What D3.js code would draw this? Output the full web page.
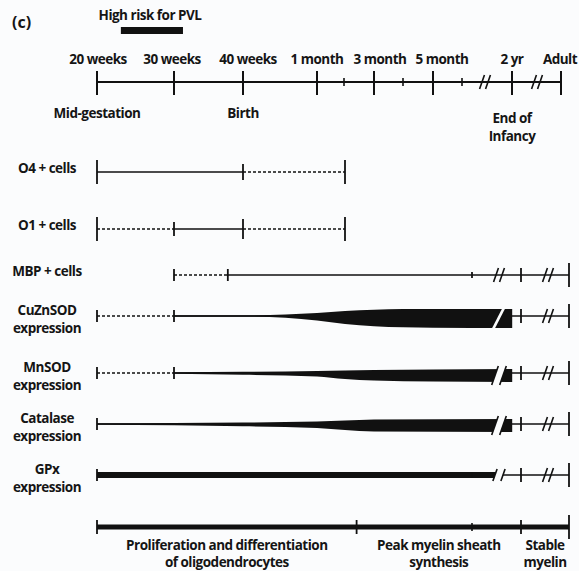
<!DOCTYPE html>
<html>
<head>
<meta charset="utf-8">
<script src="https://cdn.jsdelivr.net/npm/d3@7/dist/d3.min.js"></script>
<style>
  body { margin: 0; background: #fbfcfd; }
  text { font-family: "Open Sans", sans-serif; font-weight: 700; fill: #151515; letter-spacing: -0.5px; }
</style>
</head>
<body>
<svg id="chart" width="579" height="571"></svg>
<script>
// ---- data ----
// time points, index = position along the time scale
var timeLabels = ["20 weeks", "30 weeks", "40 weeks", "1 month", "", "3 month", "", "5 month", "", "", "2 yr", "", "Adult"];
var majorTicks = [0, 1, 2, 3, 5, 7, 10, 12];
var minorTicks = [4, 6, 8];
var breakPoints = [9, 11];
var milestones = [
    { t: 0, lines: ["Mid-gestation"] },
    { t: 2, lines: ["Birth"] },
    { t: 10, lines: ["End of", "Infancy"] }
];
var riskWindow = [0.31, 1.13];

var rowLabels = [
    ["O4 + cells"], ["O1 + cells"], ["MBP + cells"],
    ["CuZnSOD", "expression"], ["MnSOD", "expression"],
    ["Catalase", "expression"], ["GPx", "expression"]
];
// [from, to, style]
var rowSegments = [
    [[0, 2, "solid"], [2, 4, "dash"]],
    [[0, 1, "dash"], [1, 2, "solid"], [2, 4, "dash"]],
    [[1, 1.78, "dash"], [1.78, 12, "solid"]],
    [[0, 1, "dash"], [1, 12, "solid"]],
    [[0, 1, "dash"], [1, 12, "solid"]],
    [[0, 12, "solid"]],
    [[0, 12, "solid"]]
];
// [t, half height]
var rowTicks = [
    [[0, 12], [2, 8], [4, 12]],
    [[0, 12], [1, 7], [2, 10], [4, 12]],
    [[1, 6], [1.78, 6], [8, 3], [10, 7], [12, 12]],
    [[0, 6], [1, 6], [10, 7], [12, 12]],
    [[0, 6], [1, 6], [10, 7], [12, 12]],
    [[0, 6], [10, 7], [12, 12]],
    [[0, 6], [8, 3], [10, 7], [12, 12]]
];
var rowBreaks = [[], [], [9, 11], [9, 11], [9, 11], [9, 11], [9, 11]];
// expression level: [t, offset above, offset below]
var rowProfiles = [
    null, null, null,
    [[1, -0.8, 0.8], [2.1, -0.8, 0.8], [3, -3, 4.5], [4, -5, 8], [5, -6.3, 10.2], [6, -7, 11.3], [7, -7, 11.8], [9.6, -7, 12]],
    [[1, -0.8, 0.8], [2, -1.2, 1.8], [3, -2, 3.5], [4, -2.5, 6], [5, -3, 7.5], [7, -3.5, 8.5], [9.6, -4, 9]],
    [[0, -0.8, 0.8], [1, -1, 1.2], [2, -1.5, 2.2], [3, -2.5, 4], [4, -3.5, 6], [5, -4.5, 7.5], [9.6, -5, 8]],
    [[0, -3, 3], [9, -3, 3]]
];
var rowBreakStyle = [null, null, "slash", "white", "slash", "slash", "slash"];

var phases = [
    { from: 0, to: 4.4, lines: ["Proliferation and differentiation", "of oligodendrocytes"] },
    { from: 4.4, to: 10, lines: ["Peak myelin sheath", "synthesis"] },
    { from: 10, to: 12, lines: ["Stable", "myelin"] }
];
var phaseMinor = [8];

// ---- layout ----
var idx = d3.range(13);
var xTop = d3.scaleLinear().domain(idx).range([97, 174, 243, 317, 344, 374, 403, 433, 462, 485, 512, 537, 561]);
var xRow = d3.scaleLinear().domain(idx).range([97, 174, 243, 317, 345, 374, 403, 433, 472, 499, 521, 548, 569]);
var labelShift = [1, -2, 5, 0, 0, 6, 0, 9, 0, 0, 0, 0, -1];
var milestoneY = [118, 118, 123];
var rowY = [172, 229, 275, 316, 373, 424, 475];
var axisY = 82, phaseY = 527, labelX = 47;

var svg = d3.select("#chart");
var ink = "#111";
var paper = "#fbfcfd";

svg.append("text").attr("x", 12).attr("y", 28).style("font-size", "16px").style("letter-spacing", "0").text("(c)");

// risk window
svg.append("text").attr("x", 150).attr("y", 20).attr("text-anchor", "middle")
    .style("font-size", "13.5px").text("High risk for PVL");
svg.append("rect").attr("x", xTop(riskWindow[0])).attr("y", 27)
    .attr("width", xTop(riskWindow[1]) - xTop(riskWindow[0])).attr("height", 7).attr("fill", ink);

function slashes(g, x, y, h, style, y0, y1) {
    var s = h * 0.35;
    if (style === "white") {
        g.append("polygon")
            .attr("points", [[x - 3 - s, y1], [x - 1 + s, y0], [x + 2 + s, y0], [x - s, y1]].join(" "))
            .attr("fill", paper);
        return;
    }
    var w = y0 !== undefined ? 4 : 3;
    if (y0 !== undefined) {
        g.append("polygon")
            .attr("points", [[x - w - s, y + h], [x - w + s, y - h], [x + w + s, y - h], [x + w - s, y + h]].join(" "))
            .attr("fill", paper);
    }
    [-w, w].forEach(function (d) {
        g.append("line").attr("x1", x + d - s).attr("y1", y + h).attr("x2", x + d + s).attr("y2", y - h)
            .attr("stroke", ink).attr("stroke-width", 1.6);
    });
}

// top time axis
var topAxis = svg.append("g");
topAxis.append("line").attr("x1", xTop(0)).attr("x2", xTop(12)).attr("y1", axisY).attr("y2", axisY)
    .attr("stroke", ink).attr("stroke-width", 1.8);
topAxis.selectAll(".maj").data(majorTicks).enter().append("line")
    .attr("x1", xTop).attr("x2", xTop).attr("y1", axisY - 11).attr("y2", axisY + 13)
    .attr("stroke", ink).attr("stroke-width", 2);
topAxis.selectAll(".min").data(minorTicks).enter().append("line")
    .attr("x1", xTop).attr("x2", xTop).attr("y1", axisY - 4).attr("y2", axisY + 4)
    .attr("stroke", ink).attr("stroke-width", 1.6);
breakPoints.forEach(function (b) { slashes(topAxis, xTop(b), axisY, 7, "slash"); });
topAxis.selectAll(".lab").data(majorTicks).enter().append("text")
    .attr("x", function (d) { return xTop(d) + labelShift[d]; }).attr("y", 64).attr("text-anchor", "middle")
    .style("font-size", "13.5px")
    .text(function (d) { return timeLabels[d]; });
milestones.forEach(function (m, k) {
    m.lines.forEach(function (l, i) {
        topAxis.append("text").attr("x", xTop(m.t)).attr("y", milestoneY[k] + i * 18).attr("text-anchor", "middle")
            .style("font-size", "13.5px").text(l);
    });
});

// rows
var area = d3.area()
    .x(function (d) { return xRow(d[0]); })
    .curve(d3.curveMonotoneX);

rowLabels.forEach(function (lab, r) {
    var y = rowY[r];
    var g = svg.append("g");
    var n = lab.length;
    lab.forEach(function (l, i) {
        g.append("text").attr("x", labelX).attr("y", n === 1 ? y + 1 : y - 1 + i * 18)
            .attr("text-anchor", "middle").style("font-size", "13.5px").text(l);
    });
    g.selectAll(".seg").data(rowSegments[r]).enter().append("line")
        .attr("x1", function (d) { return xRow(d[0]); })
        .attr("x2", function (d) { return xRow(d[1]); })
        .attr("y1", y).attr("y2", y)
        .attr("stroke", ink).attr("stroke-width", 1.5)
        .attr("stroke-dasharray", function (d) { return d[2] === "dash" ? "3,2" : null; });
    var prof = rowProfiles[r];
    if (prof) {
        g.append("path").datum(prof)
            .attr("d", area.y0(function (d) { return y + d[1]; }).y1(function (d) { return y + d[2]; }))
            .attr("fill", ink);
    }
    rowBreaks[r].forEach(function (b) {
        var p = prof && b <= prof[prof.length - 1][0] ? prof[prof.length - 1] : null;
        if (p) {
            slashes(g, xRow(b), y + (p[1] + p[2]) / 2, (p[2] - p[1]) / 2 + 3, rowBreakStyle[r], y + p[1] - 1, y + p[2] + 1);
        } else {
            slashes(g, xRow(b), y, 7, "slash");
        }
    });
    g.selectAll(".tk").data(rowTicks[r]).enter().append("line")
        .attr("x1", function (d) { return xRow(d[0]); })
        .attr("x2", function (d) { return xRow(d[0]); })
        .attr("y1", function (d) { return y - d[1]; })
        .attr("y2", function (d) { return y + d[1]; })
        .attr("stroke", ink).attr("stroke-width", 1.8);
});

// phase bar
var ph = svg.append("g");
ph.append("line").attr("x1", xRow(0)).attr("x2", xRow(12)).attr("y1", phaseY).attr("y2", phaseY)
    .attr("stroke", ink).attr("stroke-width", 5);
var phaseTicks = phases.map(function (p) { return p.from; }).concat([12]);
ph.selectAll(".tk").data(phaseTicks).enter().append("line")
    .attr("x1", xRow).attr("x2", xRow)
    .attr("y1", function (d, i) { return phaseY - (i === phaseTicks.length - 1 ? 12 : 7); })
    .attr("y2", function (d, i) { return phaseY + (i === phaseTicks.length - 1 ? 12 : 7); })
    .attr("stroke", ink).attr("stroke-width", 1.8);
ph.selectAll(".mn").data(phaseMinor).enter().append("line")
    .attr("x1", xRow).attr("x2", xRow).attr("y1", phaseY - 4).attr("y2", phaseY + 4)
    .attr("stroke", ink).attr("stroke-width", 1.6);
phases.forEach(function (p) {
    p.lines.forEach(function (l, i) {
        ph.append("text").attr("x", (xRow(p.from) + xRow(p.to)) / 2).attr("y", 550 + i * 17)
            .attr("text-anchor", "middle").style("font-size", "13.5px").text(l);
    });
});
</script>
</body>
</html>
